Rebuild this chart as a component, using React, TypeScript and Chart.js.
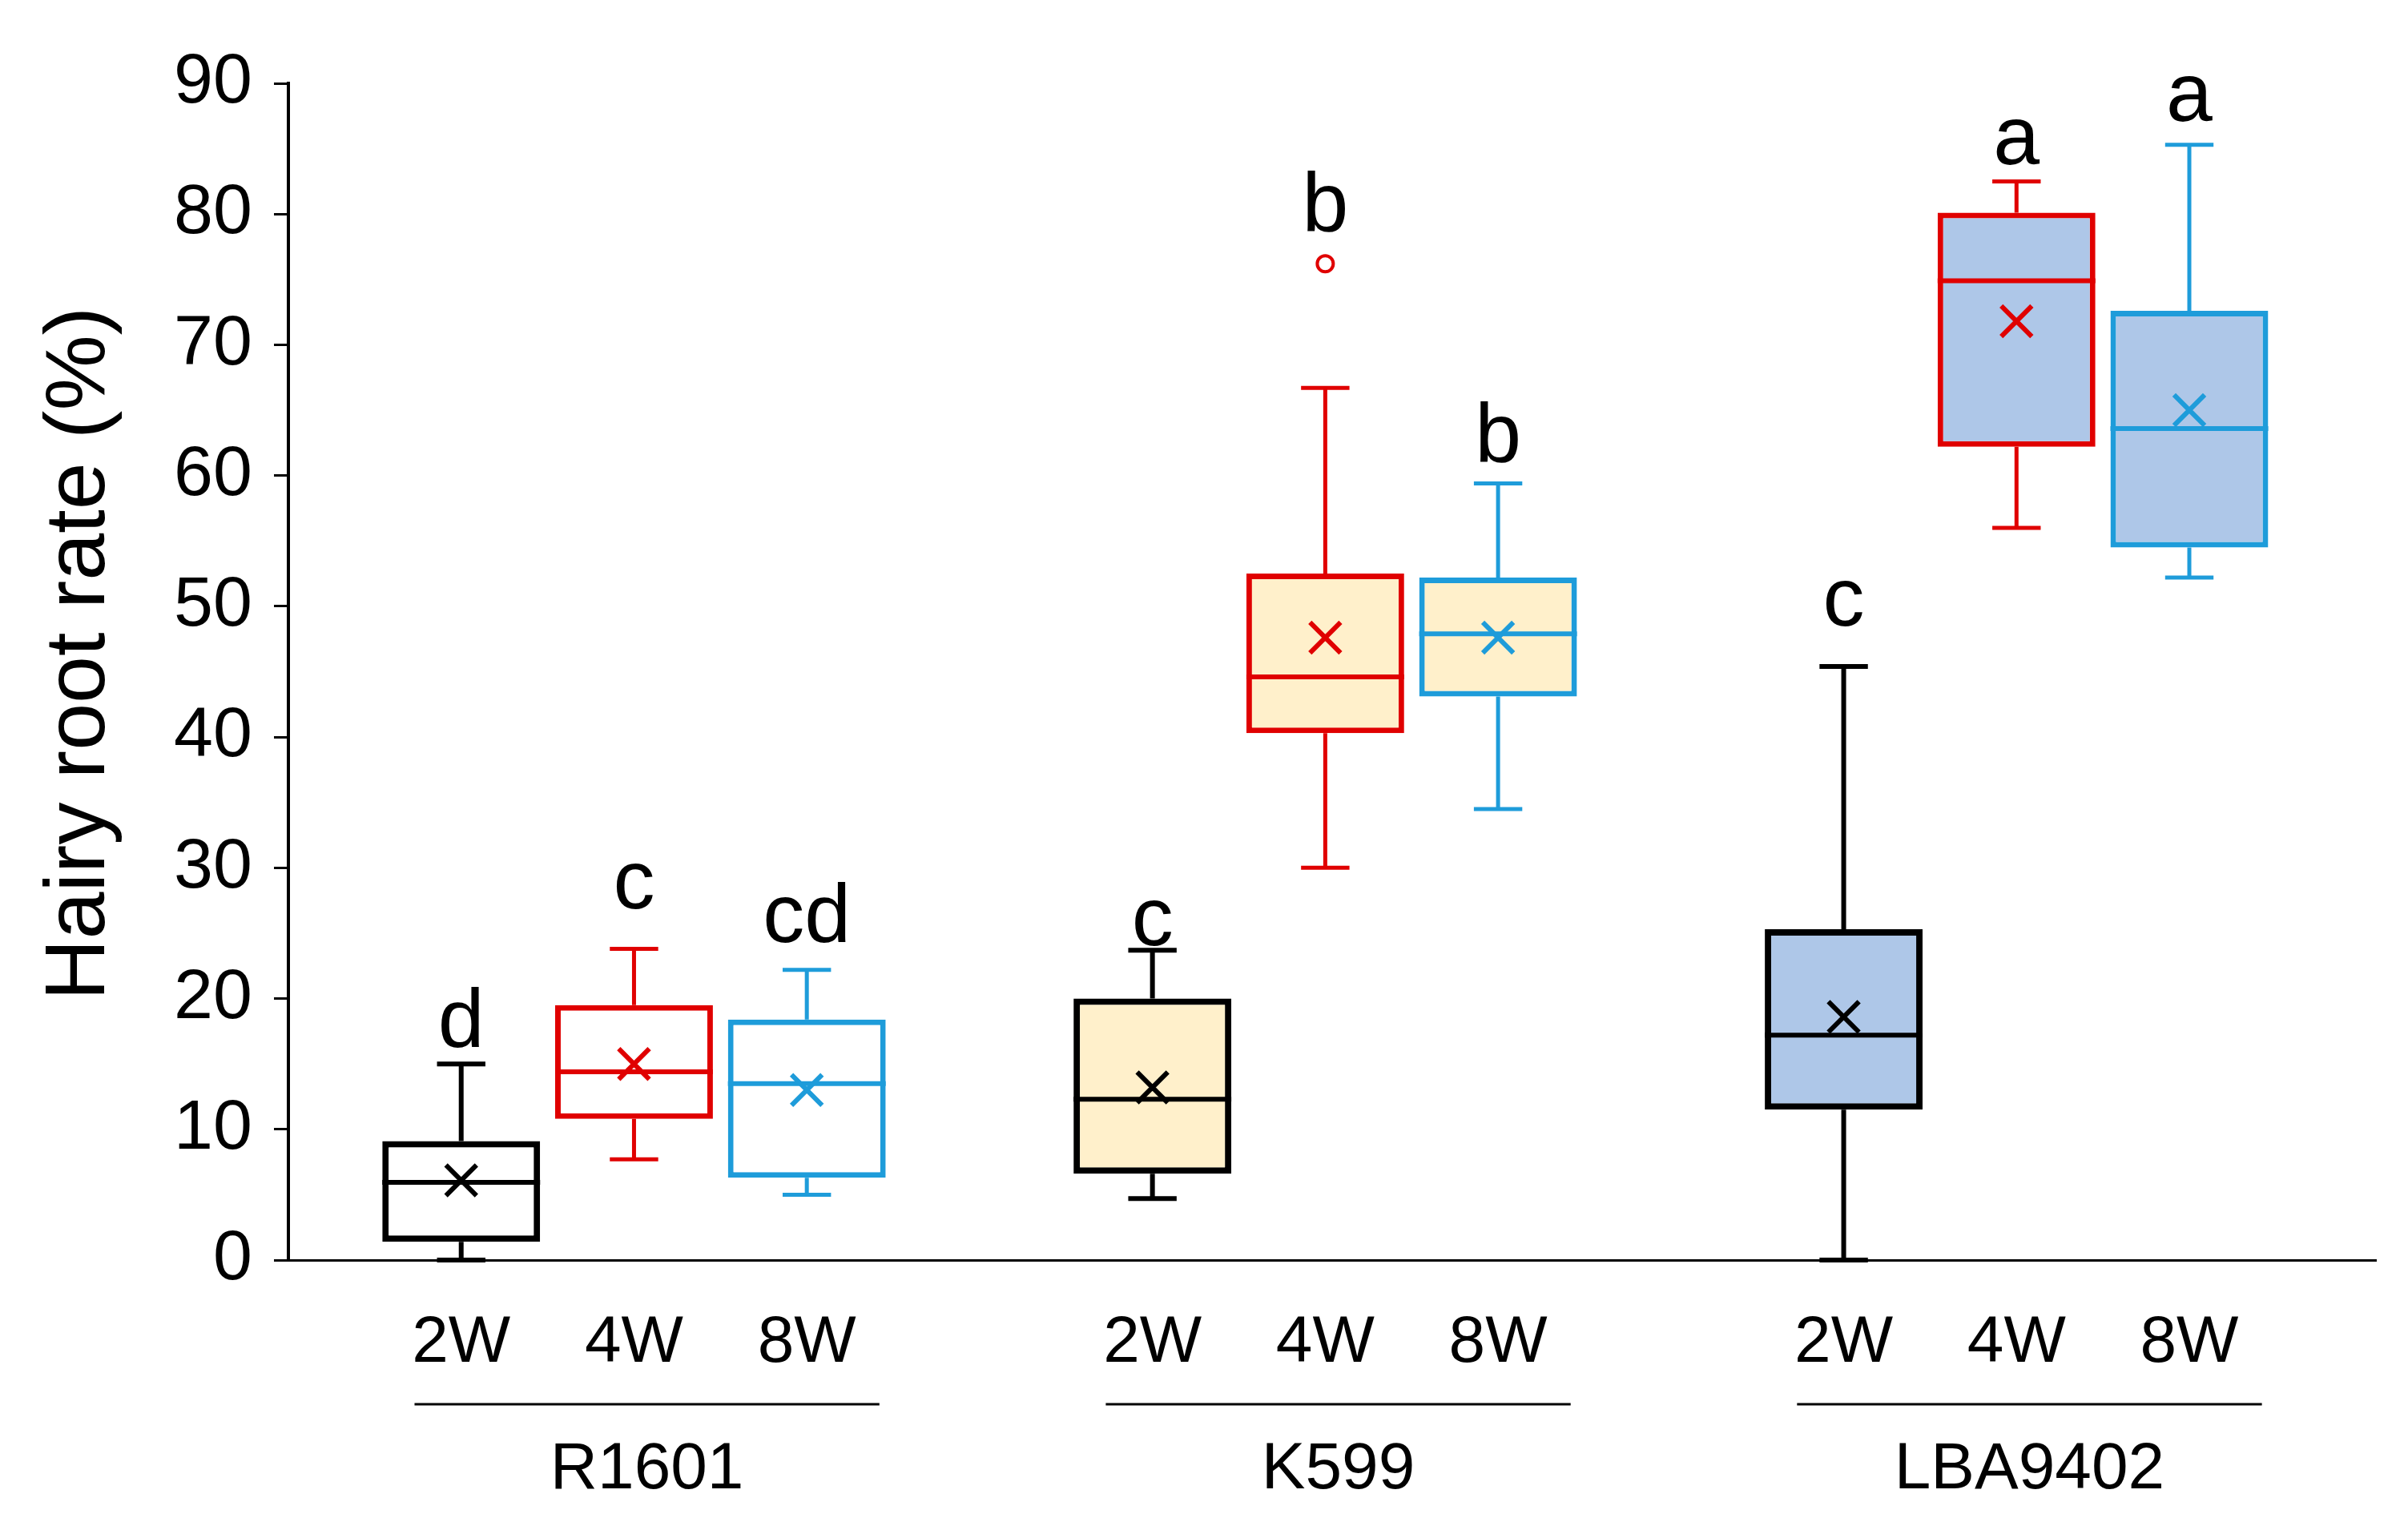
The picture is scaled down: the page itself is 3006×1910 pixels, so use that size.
import React, { useEffect, useRef } from "react";
import { Chart, registerables } from "chart.js";

Chart.register(...registerables);

// ---- data ----
const groups = ["R1601", "K599", "LBA9402"];
const weeks = ["2W", "4W", "8W"];
// order: R1601 2W,4W,8W | K599 2W,4W,8W | LBA9402 2W,4W,8W
const whiskerMin = [0, 7.7, 5.0, 4.7, 30.0, 34.5, 0, 56.0, 52.2];
const q1 = [1.4, 10.8, 6.3, 6.6, 40.3, 43.1, 11.5, 62.2, 54.5];
const median = [5.95, 14.4, 13.5, 12.3, 44.6, 47.9, 17.2, 74.9, 63.6];
const q3 = [9.1, 19.5, 18.4, 20.0, 52.5, 52.2, 25.3, 80.1, 72.6];
const whiskerMax = [15.0, 23.8, 22.2, 23.7, 66.7, 59.4, 45.4, 82.5, 85.3];
const means = [6.1, 15.0, 13.0, 13.2, 47.6, 47.6, 18.6, 71.8, 65.0];
const outlierBox = [4];
const outlierValue = [76.2];
const letters = ["d", "c", "cd", "c", "b", "b", "c", "a", "a"];
const letterY = [16.3, 26.9, 24.3, 24.1, 78.7, 61.1, 48.5, 83.8, 87.1];
const yTicks = [0, 10, 20, 30, 40, 50, 60, 70, 80, 90];
const yTitle = "Hairy root rate (%)";

// ---- styles ----
const FONT = "'Liberation Sans', Arial, sans-serif";
const weekColors = ["#000000", "#E00000", "#1E9CDA"];
const weekBorder = [8, 7, 7];
const weekWhisker = [6, 5, 5];
const groupFills = ["#FFFFFF", "#FFF0CB", "#AEC7E8"];

const nBox = q1.length;
const posOf = (i: number) => Math.floor(i / 3) * 4 + (i % 3);
const positions = Array.from({ length: nBox }, (_, i) => posOf(i));

const extrasPlugin = {
  id: "boxExtras",
  afterDatasetDraw(chart: any, args: any) {
    if (args.meta.type !== "bar") return;
    const ctx = chart.ctx;
    const xs = chart.scales.x;
    const ys = chart.scales.y;
    const slot = xs.getPixelForValue(1) - xs.getPixelForValue(0);
    const capHalf = slot * 0.14;
    ctx.save();
    for (let i = 0; i < nBox; i++) {
      const el = args.meta.data[i];
      const s = i % 3;
      const cx = xs.getPixelForValue(positions[i]);
      const half = el.width / 2;
      ctx.strokeStyle = weekColors[s];
      ctx.lineCap = "butt";
      ctx.lineWidth = weekWhisker[s];
      const yMax = ys.getPixelForValue(whiskerMax[i]);
      const yQ3 = ys.getPixelForValue(q3[i]);
      const yQ1 = ys.getPixelForValue(q1[i]);
      const yMin = ys.getPixelForValue(whiskerMin[i]);
      ctx.beginPath();
      ctx.moveTo(cx, yQ3);
      ctx.lineTo(cx, yMax);
      ctx.moveTo(cx - capHalf, yMax);
      ctx.lineTo(cx + capHalf, yMax);
      ctx.moveTo(cx, yQ1);
      ctx.lineTo(cx, yMin);
      ctx.moveTo(cx - capHalf, yMin);
      ctx.lineTo(cx + capHalf, yMin);
      ctx.stroke();
      ctx.lineWidth = 6;
      const yMed = ys.getPixelForValue(median[i]);
      ctx.beginPath();
      ctx.moveTo(cx - half, yMed);
      ctx.lineTo(cx + half, yMed);
      ctx.stroke();
    }
    ctx.restore();
  },
  afterDraw(chart: any) {
    const ctx = chart.ctx;
    const xs = chart.scales.x;
    const ys = chart.scales.y;
    const slot = xs.getPixelForValue(1) - xs.getPixelForValue(0);
    ctx.save();
    ctx.fillStyle = "#000";
    ctx.textAlign = "center";
    ctx.textBaseline = "alphabetic";
    ctx.font = `104px ${FONT}`;
    for (let i = 0; i < nBox; i++) {
      ctx.fillText(letters[i], xs.getPixelForValue(positions[i]), ys.getPixelForValue(letterY[i]));
    }
    ctx.font = `82px ${FONT}`;
    for (let i = 0; i < nBox; i++) {
      ctx.fillText(weeks[i % 3], xs.getPixelForValue(positions[i]), 1700);
    }
    ctx.strokeStyle = "#000";
    ctx.lineWidth = 3;
    for (let g = 0; g < groups.length; g++) {
      const x0 = xs.getPixelForValue(g * 4) - 0.27 * slot;
      const x1 = xs.getPixelForValue(g * 4 + 2) + 0.42 * slot;
      ctx.beginPath();
      ctx.moveTo(x0, 1753);
      ctx.lineTo(x1, 1753);
      ctx.stroke();
      ctx.fillText(groups[g], (x0 + x1) / 2, 1858);
    }
    ctx.font = `106px ${FONT}`;
    ctx.translate(130, 816);
    ctx.rotate(-Math.PI / 2);
    ctx.fillText(yTitle, 0, 0);
    ctx.restore();
  },
};

export default function App() {
  const ref = useRef<HTMLCanvasElement | null>(null);
  useEffect(() => {
    if (!ref.current) return;
    const chart = new Chart(ref.current, {
      type: "bar",
      data: {
        datasets: [
          {
            type: "bar",
            data: positions.map((p, i) => ({ x: p, y: [q1[i], q3[i]] })) as any,
            backgroundColor: positions.map((_, i) => groupFills[Math.floor(i / 3)]),
            borderColor: positions.map((_, i) => weekColors[i % 3]),
            borderWidth: positions.map((_, i) => weekBorder[i % 3]) as any,
            borderSkipped: false,
            barPercentage: 0.913,
            categoryPercentage: 1,
            order: 2,
          } as any,
          {
            type: "scatter",
            data: positions.map((p, i) => ({ x: p, y: means[i] })),
            pointStyle: "crossRot",
            pointRadius: 27,
            pointBorderWidth: 6,
            pointBorderColor: positions.map((_, i) => weekColors[i % 3]),
            pointBackgroundColor: "rgba(0,0,0,0)",
            order: 1,
          } as any,
          {
            type: "scatter",
            data: outlierBox.map((b, k) => ({ x: positions[b], y: outlierValue[k] })),
            pointStyle: "circle",
            pointRadius: 10,
            pointBorderWidth: 4,
            pointBorderColor: outlierBox.map((b) => weekColors[b % 3]),
            pointBackgroundColor: "#FFFFFF",
            order: 0,
          } as any,
        ],
      },
      options: {
        responsive: false,
        animation: false,
        devicePixelRatio: 1,
        layout: { padding: { left: 0, top: 104, right: 40, bottom: 337 } },
        plugins: { legend: { display: false }, tooltip: { enabled: false } },
        scales: {
          x: {
            type: "linear",
            offset: false,
            min: -1,
            max: 11.08,
            grid: { display: false, offset: false },
            ticks: { display: false },
            border: { display: true, color: "#000", width: 3 },
            afterBuildTicks: (s: any) => {
              s.ticks = positions.map((v) => ({ value: v }));
            },
            afterFit: (s: any) => {
              s.height = 0;
            },
          },
          y: {
            type: "linear",
            min: 0,
            max: 90,
            afterBuildTicks: (s: any) => {
              s.ticks = yTicks.map((v) => ({ value: v }));
            },
            ticks: {
              color: "#000",
              padding: 27,
              font: { family: FONT, size: 88 },
            },
            grid: {
              drawOnChartArea: false,
              drawTicks: true,
              tickLength: 18,
              color: "#000",
              lineWidth: 3,
            },
            border: { display: true, color: "#000", width: 4 },
            afterFit: (s: any) => {
              s.width = 360;
            },
          },
        },
      } as any,
      plugins: [extrasPlugin],
    });
    return () => chart.destroy();
  }, []);
  return (
    <div style={{ position: "fixed", left: 0, top: 0, width: 3006, height: 1910, background: "#fff" }}>
      <canvas ref={ref} width={3006} height={1910} style={{ width: 3006, height: 1910 }} />
    </div>
  );
}
